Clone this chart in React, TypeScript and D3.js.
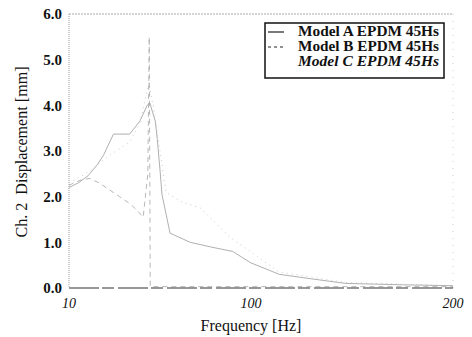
import React from 'react';
import * as d3 from 'd3';

const freqA = [10, 14.5, 19.5, 24, 27, 32, 40, 45, 48.7, 50, 52.7, 53.7, 55, 56, 60, 70, 80, 91, 100, 114, 130, 147, 175, 200];
const dispA = [2.2, 2.3, 2.46, 2.7, 2.9, 3.37, 3.37, 3.65, 4.0, 4.05, 3.65, 3.25, 2.6, 2.05, 1.2, 1.0, 0.9, 0.8, 0.55, 0.3, 0.2, 0.1, 0.07, 0.05];

const freqB = [10, 15, 20, 25, 30, 35, 40, 43.7, 46.7, 49, 49.7, 50.2, 60, 80, 100, 120, 150, 200];
const dispB = [2.25, 2.35, 2.4, 2.3, 2.15, 2.0, 1.85, 1.7, 1.55, 2.5, 5.5, 0.03, 0.03, 0.03, 0.03, 0.03, 0.03, 0.03];

const freqC = [10, 20, 30, 40, 45, 49.5, 52, 55, 58, 65, 75, 90, 114, 147, 200];
const dispC = [2.3, 2.55, 2.9, 3.2, 3.6, 4.5, 3.9, 3.0, 2.1, 1.9, 1.75, 1.1, 0.35, 0.12, 0.05];

const yTicks = [0, 1, 2, 3, 4, 5, 6];
const xTicks = [10, 100, 200];
const legendLabels = ['Model A EPDM 45Hs', 'Model B EPDM 45Hs', 'Model C EPDM 45Hs'];

const W = 472;
const H = 337;
const margin = { top: 14, right: 19, bottom: 49, left: 69 };

export default function App() {
  const x = d3.scaleLinear().domain([10, 200]).range([margin.left, W - margin.right]);
  const y = d3.scaleLinear().domain([0, 6]).range([H - margin.bottom, margin.top]);

  const line = d3.line<[number, number]>()
    .x(d => x(d[0]))
    .y(d => y(d[1]));

  // the scan is very faded, so the curves are drawn light
  const series = [
    { f: freqA, v: dispA, dash: 'none', color: '#9a9a9a' },
    { f: freqB, v: dispB, dash: '5 4', color: '#a5a5a5' },
    { f: freqC, v: dispC, dash: '1 4', color: '#bbb' },
  ];

  const serif = '"Liberation Serif", "Times New Roman", serif';
  const x0 = margin.left;
  const x1 = W - margin.right;
  const y0 = H - margin.bottom;
  const y1 = margin.top;

  return (
    <svg width={W} height={H} style={{ position: 'absolute', left: 0, top: 0, background: '#fff' }} fontFamily={serif}>
      {/* frame */}
      <line x1={x0} x2={x1} y1={y1} y2={y1} stroke="#aaa" strokeWidth={1} strokeDasharray="2 1" />
      <line x1={x1} x2={x1} y1={y1} y2={y0} stroke="#ccc" strokeWidth={1} strokeDasharray="1 6" />
      <line x1={x0} x2={x0} y1={y1} y2={y0} stroke="#999" strokeWidth={1} strokeDasharray="1 1" />

      {/* series */}
      {series.map((s, i) => (
        <path key={i}
          d={line(s.f.map((f, j) => [f, s.v[j]] as [number, number])) || ''}
          fill="none" stroke={s.color} strokeWidth={0.8} strokeDasharray={s.dash} />
      ))}

      <line x1={x0} x2={x1} y1={y0} y2={y0} stroke="#333" strokeWidth={1.2} strokeDasharray="30 3 12 4" />

      {/* y ticks */}
      {yTicks.map(t => (
        <text key={t} x={62} y={y(t)} dy="0.35em" textAnchor="end" fontSize={15} fontWeight="bold" fill="#111">
          {t.toFixed(1)}
        </text>
      ))}
      {/* x ticks */}
      {xTicks.map(t => (
        <text key={t} x={x(t)} y={y0 + 20} textAnchor="middle" fontSize={14} fontStyle="italic" fill="#111">
          {t}
        </text>
      ))}

      <text x={251} y={331} textAnchor="middle" fontSize={16} fill="#111">Frequency [Hz]</text>
      <text transform={`translate(27,152) rotate(-90)`} textAnchor="middle" fontSize={16.5} fill="#111"
        textLength={171} lengthAdjust="spacingAndGlyphs" style={{ whiteSpace: 'pre' }}>
        {'Ch. 2  Displacement [mm]'}
      </text>

      {/* legend */}
      <g>
        <rect x={265} y={23} width={179} height={55} fill="#fff" stroke="#111" strokeWidth={1.5} />
        {legendLabels.map((lab, i) => (
          <g key={lab}>
            {i < 2 && (
              <line x1={268} x2={284} y1={32 + i * 15} y2={32 + i * 15}
                stroke="#222" strokeWidth={1.2} strokeDasharray={i === 1 ? '3 3' : 'none'} />
            )}
            <text x={298} y={36 + i * 15} fontSize={14.5} fontWeight="bold"
              fontStyle={i === 2 ? 'italic' : 'normal'} fill="#111"
              textLength={141} lengthAdjust="spacingAndGlyphs">
              {lab}
            </text>
          </g>
        ))}
      </g>
    </svg>
  );
}
